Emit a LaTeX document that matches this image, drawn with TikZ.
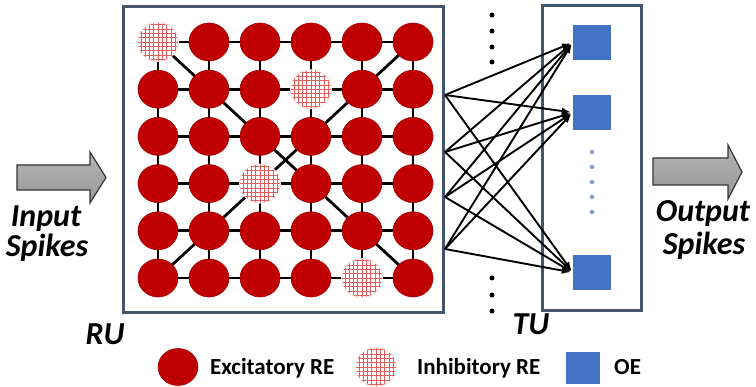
\documentclass[tikz,border=0pt]{standalone}
\usepackage{fontspec}
\setmainfont{Carlito}
\usetikzlibrary{shapes.geometric,arrows.meta,backgrounds}
\definecolor{rered}{RGB}{192,0,0}
\definecolor{reedge}{RGB}{160,0,0}
\definecolor{boxcol}{RGB}{68,84,106}
\definecolor{oeblue}{RGB}{68,114,196}
\definecolor{dotblue}{RGB}{130,160,205}
\definecolor{arrgray}{RGB}{150,150,150}
\definecolor{gridred}{RGB}{225,95,95}
\tikzset{
  exc/.style={ellipse,minimum width=40pt,minimum height=38pt,inner sep=0pt,fill=rered,draw=reedge,line width=0.6pt},
  inh/.style={ellipse,minimum width=41pt,minimum height=39pt,inner sep=0pt,fill=white,draw=red!12,line width=0.8pt},
  hatch/.style={color=gridred,line width=0.6pt},
  oe/.style={rectangle,minimum width=38pt,minimum height=35pt,inner sep=0pt,fill=oeblue},
  unitbox/.style={draw=boxcol,line width=3pt},
  link/.style={line width=2.8pt,black},
  conn/.style={line width=1.9pt,black,-{Latex[length=9pt,width=7pt]},shorten >=2pt},
  bigarrow/.style={draw=black!80,line width=1.2pt,top color=arrgray!70,bottom color=arrgray,middle color=arrgray!85},
  lbl/.style={font=\fontsize{32}{32}\selectfont\bfseries\itshape,inner sep=0pt},
  leg/.style={font=\fontsize{23}{23}\selectfont\bfseries,inner sep=0pt,anchor=base west},
  bdot/.style={circle,fill=black,inner sep=0pt,minimum size=5pt},
  ldot/.style={circle,fill=dotblue,inner sep=0pt,minimum size=4.5pt}
}
\newcommand{\hatchnode}[1]{%
  \begin{scope}
    \clip (#1.center) ellipse [x radius=20pt, y radius=19pt];
    \foreach \k in {-21.5,-17.2,...,22}{
      \draw[hatch] ([xshift=\k pt,yshift=-25pt]#1.center) -- ([xshift=\k pt,yshift=25pt]#1.center);
      \draw[hatch] ([yshift=\k pt,xshift=-25pt]#1.center) -- ([yshift=\k pt,xshift=25pt]#1.center);
    }
  \end{scope}}
\begin{document}
\begin{tikzpicture}[x=1pt,y=-1pt]
\useasboundingbox (0,0) rectangle (756,387);
% unit boxes
\draw[unitbox] (123,7) rectangle (443,313);
\draw[unitbox] (542,6) rectangle (641,311);
% reservoir elements
\foreach \r in {0,...,5}{
  \foreach \c in {0,...,5}{
    \node[exc] (c-\r-\c) at ({158+51*\c},{42+47.2*\r}) {};
  }
}
\foreach \r/\c in {0/0,1/3,3/2,5/4}{
  \node[inh] (c-\r-\c) at ({158+51*\c},{42+47.2*\r}) {};
  \hatchnode{c-\r-\c}
}
% links behind elements
\begin{scope}[on background layer]
\foreach \r in {0,...,5}{
  \foreach \c [evaluate=\c as \n using int(\c+1)] in {0,...,4}{
    \draw[link] (c-\r-\c.center) -- (c-\r-\n.center);
    \draw[link] (c-\c-\r.center) -- (c-\n-\r.center);
  }
}
\draw[link] (c-0-0.center) -- (c-1-1.center) -- (c-2-2.center) -- (c-3-3.center) -- (c-4-4.center) -- (c-5-5.center);
\draw[link] (c-0-5.center) -- (c-1-4.center) -- (c-2-3.center) -- (c-3-2.center) -- (c-4-1.center) -- (c-5-0.center);
\end{scope}
% output elements
\node[oe] (sq1) at (592,42.5) {};
\node[oe] (sq2) at (592,112.5) {};
\node[oe] (sq3) at (592,272.5) {};
\foreach \y [count=\i] in {152,167,182,197,212}{
  \node[ldot] (bd\i) at (592,\y) {};
}
% black dots
\foreach \y [count=\i] in {15,31,47,62}{
  \node[bdot] (td\i) at (492,\y) {};
}
\foreach \y [count=\i] in {278,295,311}{
  \node[bdot] (ud\i) at (492,\y) {};
}
% connections
\coordinate (s1) at (445,95);
\coordinate (s2) at (445,152);
\coordinate (s3) at (445,197);
\coordinate (s4) at (445,249);
\foreach \s in {s1,s2,s3,s4}{
  \foreach \t in {sq1,sq2,sq3}{
    \draw[conn] (\s) -- (\t.west);
  }
}
% big arrows
\draw[bigarrow] (17,165) -- (90,165) -- (90,152) -- (106,177.5) -- (90,203) -- (90,190) -- (17,190) -- cycle;
\draw[bigarrow] (653,158) -- (728,158) -- (728,145) -- (742,172) -- (728,199) -- (728,185) -- (653,185) -- cycle;
% labels
\node[lbl,anchor=base] (in1) at (46,227) {Input};
\node[lbl,anchor=base] (in2) at (47,257) {Spikes};
\node[lbl,anchor=base] (out1) at (703,222) {Output};
\node[lbl,anchor=base] (out2) at (704,255) {Spikes};
\node[lbl,anchor=base] (ru) at (105,345) {RU};
\node[lbl,anchor=base] (tu) at (531,335) {TU};
% legend
\node[exc,minimum width=40pt,minimum height=37pt] (lgexc) at (178,367) {};
\node[leg] (lgexct) at (210,375) {Excitatory RE};
\node[inh] (lginh) at (376,367) {};
\hatchnode{lginh}
\node[leg] (lginht) at (417,375) {Inhibitory RE};
\node[oe,minimum width=34pt,minimum height=32pt] (lgoe) at (583,368) {};
\node[leg] (lgoet) at (614,375) {OE};
\end{tikzpicture}
\end{document}
